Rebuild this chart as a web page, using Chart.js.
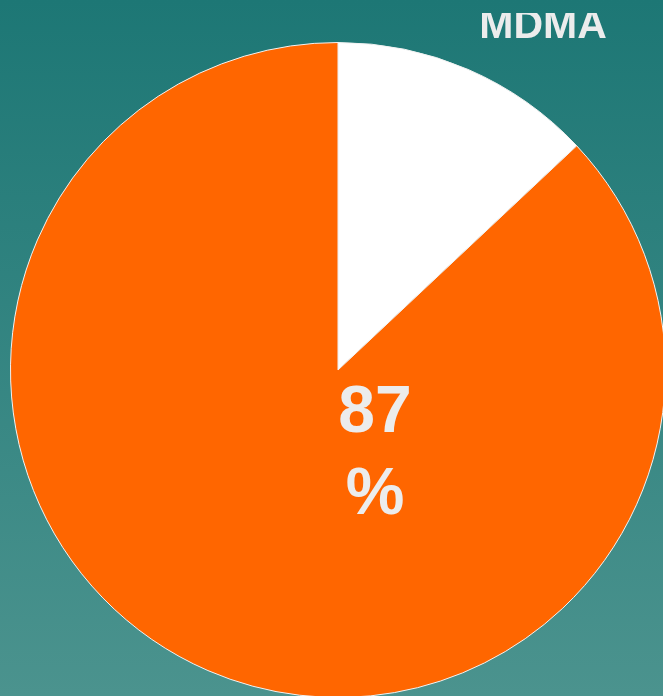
<!DOCTYPE html>
<html>
<head>
<meta charset="utf-8">
<script src="https://cdn.jsdelivr.net/npm/chart.js@4"></script>
<style>
  html, body { margin: 0; padding: 0; }
  #wrap {
    position: relative;
    width: 663px;
    height: 696px;
    overflow: hidden;
    background: linear-gradient(#1d7775, #4b938e);
  }
  #mdmaPie { position: absolute; left: 0; top: 0; }
</style>
</head>
<body>
<div id="wrap">
  <canvas id="mdmaPie" width="676" height="740"></canvas>
</div>
<script>
const title = "MDMA";
const labels = ["No", "Yes"];
const values = [13, 87];
const sliceColors = ["#ffffff", "#ff6600"];
const centerLines = ["87", "%"];

document.addEventListener("DOMContentLoaded", (event) => {
  const textPlugin = {
    id: "textPlugin",
    afterDraw(chart) {
      const ctx = chart.ctx;
      const area = chart.chartArea;
      const cx = (area.left + area.right) / 2;
      const cy = (area.top + area.bottom) / 2;
      ctx.save();
      ctx.fillStyle = "#ececec";
      ctx.textAlign = "center";
      ctx.textBaseline = "alphabetic";
      // value label in the middle of the pie
      ctx.font = "bold 66px 'Liberation Sans', Arial, sans-serif";
      ctx.fillText(centerLines[0], cx + 37, cy + 62);
      ctx.fillText(centerLines[1], cx + 37, cy + 144);
      // title, partly hidden at the top
      ctx.beginPath();
      ctx.rect(0, 13, chart.width, chart.height);
      ctx.clip();
      ctx.font = "bold 41px 'Liberation Sans', Arial, sans-serif";
      ctx.fillText(title, 543, 38);
      ctx.restore();
    },
  };

  const pieCtx = document.getElementById("mdmaPie").getContext("2d");
  const mdmaPie = new Chart(pieCtx, {
    type: "pie",
    data: {
      labels: labels,
      datasets: [
        {
          label: title,
          data: values,
          backgroundColor: sliceColors,
          borderColor: "#f2f2f2",
          borderWidth: 1,
        },
      ],
    },
    options: {
      responsive: false,
      animation: false,
      layout: { padding: 10 },
      plugins: {
        legend: { display: false },
        tooltip: { enabled: false },
      },
    },
    plugins: [textPlugin],
  });
});
</script>
</body>
</html>
